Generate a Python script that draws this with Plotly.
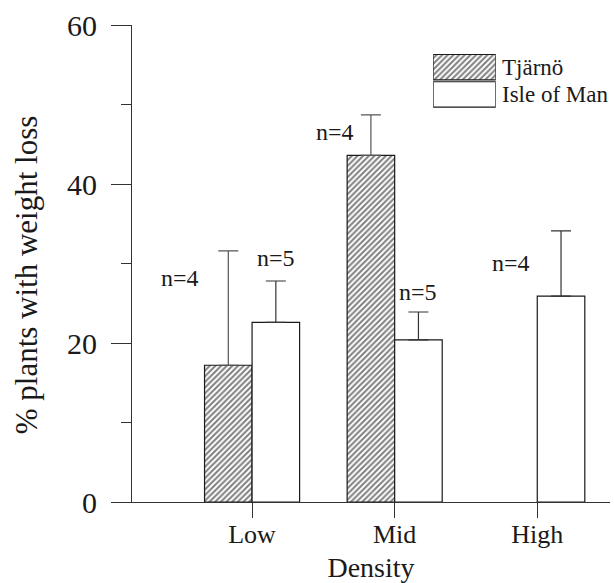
import plotly.graph_objects as go

categories = ["Low", "Mid", "High"]
series_names = ["Tjärnö", "Isle of Man"]
tjarno_vals = [17.2, 43.6, None]
tjarno_err = [14.4, 5.1, None]
tjarno_n = [4, 4, None]
isle_vals = [22.6, 20.4, 25.9]
isle_err = [5.2, 3.5, 8.2]
isle_n = [5, 5, 4]
y_ticks = [0, 20, 40, 60]
y_title = "% plants with weight loss"
x_title = "Density"

# label offsets (px) relative to the top of each error bar
tjarno_lab_off = [(-48, -27), (-36, -17), None]
isle_lab_off = [(0, 23), (0, 20), (-50, -32)]

FONT = "Liberation Serif, Times New Roman, DejaVu Serif, Noto Serif, serif"
INK = "#1a1a1a"
HATCH = dict(shape="/", fgcolor="#000000", bgcolor="white", size=4, solidity=0.5)

fig = go.Figure()
fig.add_trace(go.Bar(
    x=categories, y=tjarno_vals, name=series_names[0],
    marker=dict(color="white", line=dict(color=INK, width=1.2), pattern=HATCH),
    error_y=dict(type="data", symmetric=False, array=tjarno_err,
                 arrayminus=[0 if e is not None else None for e in tjarno_err],
                 width=10, thickness=1.2, color="#555555"),
    showlegend=False,
))
fig.add_trace(go.Bar(
    x=categories, y=isle_vals, name=series_names[1],
    marker=dict(color="white", line=dict(color=INK, width=1.2)),
    error_y=dict(type="data", symmetric=False, array=isle_err,
                 arrayminus=[0 for _ in isle_err],
                 width=10, thickness=1.2, color="#333333"),
    showlegend=False,
))

# legend swatches drawn as bars on a small secondary axis pair
fig.add_trace(go.Bar(
    y=[series_names[0]], x=[1], orientation="h", xaxis="x2", yaxis="y2",
    marker=dict(color="white", line=dict(color=INK, width=1.2), pattern=HATCH),
    showlegend=False, hoverinfo="skip",
))
fig.add_trace(go.Bar(
    y=[series_names[1]], x=[1], orientation="h", xaxis="x2", yaxis="y2",
    marker=dict(color="white", line=dict(color=INK, width=1.2)),
    showlegend=False, hoverinfo="skip",
))

annotations = []
def add_labels(vals, errs, ns, offs, offset):
    for i, (v, e, n, o) in enumerate(zip(vals, errs, ns, offs)):
        if v is None or n is None or o is None:
            continue
        annotations.append(dict(
            x=i + offset, y=v + e, xref="x", yref="y", text=f"n={n}",
            showarrow=False, xshift=o[0], yshift=o[1],
            font=dict(family=FONT, size=24, color=INK)))

add_labels(tjarno_vals, tjarno_err, tjarno_n, tjarno_lab_off, -1/6)
add_labels(isle_vals, isle_err, isle_n, isle_lab_off, 1/6)

# legend texts
for name in series_names:
    annotations.append(dict(
        x=1, y=name, xref="x2", yref="y2", text=name, showarrow=False,
        xanchor="left", xshift=4, font=dict(family=FONT, size=23, color=INK)))

# y-axis title
annotations.append(dict(
    x=-0.219, y=0.476, xref="paper", yref="paper", text=y_title, showarrow=False,
    textangle=-90, xanchor="center", yanchor="middle",
    font=dict(family=FONT, size=31, color=INK)))

fig.update_layout(
    width=614, height=583,
    margin=dict(l=132, r=4, t=25, b=81),
    paper_bgcolor="white", plot_bgcolor="white",
    barmode="group", bargap=1/3, bargroupgap=0,
    font=dict(family=FONT, color=INK),
    annotations=annotations,
    xaxis=dict(
        range=[-0.842, 2.51], showline=True, linecolor="#333333", linewidth=1.2,
        ticks="outside", ticklen=15, tickwidth=1.2, tickcolor="#333333",
        tickfont=dict(family=FONT, size=26, color=INK), ticklabelstandoff=-6,
        title=dict(text=x_title, font=dict(family=FONT, size=28, color=INK), standoff=10),
        showgrid=False, zeroline=False,
    ),
    yaxis=dict(
        range=[0, 60], tickvals=y_ticks, showline=True, linecolor="#333333", linewidth=1.2,
        ticks="outside", ticklen=20, tickwidth=1.2, tickcolor="#333333",
        minor=dict(dtick=10, ticklen=10, tickwidth=1.2, tickcolor="#333333", ticks="outside"),
        tickfont=dict(family=FONT, size=30, color=INK), ticklabelstandoff=8,
        showgrid=False, zeroline=False,
    ),
    xaxis2=dict(domain=[0.63, 0.761], range=[0, 1], visible=False, anchor="y2"),
    yaxis2=dict(domain=[0.824, 0.942], anchor="x2", visible=False,
                categoryorder="array", categoryarray=[series_names[1], series_names[0]]),
)
fig.update_traces(selector=dict(xaxis="x2"), width=0.93)

fig.write_html("out.html", post_script="document.body.style.margin='0px';",
               config={"displayModeBar": False})
